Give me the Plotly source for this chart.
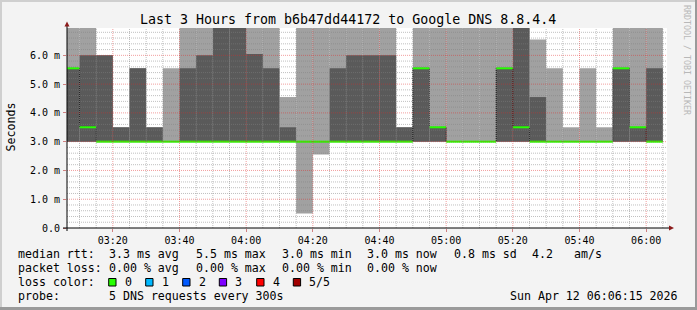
import plotly.graph_objects as go
from datetime import datetime, timedelta

# ---------------- data ----------------
graph_start = "2026-04-12 03:06:15"
graph_end = "2026-04-12 06:06:15"
day = "2026-04-12"

column_end = ["03:10", "03:15", "03:20", "03:25", "03:30", "03:35", "03:40", "03:45",
              "03:50", "03:55", "04:00", "04:05", "04:10", "04:15", "04:20", "04:25",
              "04:30", "04:35", "04:40", "04:45", "04:50", "04:55", "05:00", "05:05",
              "05:10", "05:15", "05:20", "05:25", "05:30", "05:35", "05:40", "05:45",
              "05:50", "05:55", "06:00", "06:05"]

# sorted pings per 5-minute step (ms); 7.3 = off the top of the chart
ping_min = [3.0, 3.0, 3.0, 3.0, 3.0, 3.0, 3.0, 3.0, 3.0, 3.0, 3.0, 3.0, 3.0, 3.0, 0.5, 2.55,
            3.0, 3.0, 3.0, 3.0, 3.0, 3.0, 3.0, 3.0, 3.0, 3.0, 3.0, 3.0, 3.0, 3.0, 3.0, 3.0,
            3.0, 3.0, 3.0, 3.0]
ping_lo = [3.0] * 36
median_rtt = [5.55, 3.5, 3.0, 3.0, 3.0, 3.0, 3.0, 3.0, 3.0, 3.0, 3.0, 3.0, 3.0, 3.0, 3.0, 3.0,
              3.0, 3.0, 3.0, 3.0, 3.0, 5.55, 3.5, 3.0, 3.0, 3.0, 5.55, 3.5, 3.0, 3.0, 3.0, 3.0,
              3.0, 5.55, 3.5, 3.0]
ping_hi = [5.55, 6.0, 6.0, 3.5, 5.55, 3.5, 3.0, 5.55, 6.0, 7.3, 7.3, 6.05, 5.55, 3.5, 3.0, 3.0,
           5.55, 6.0, 6.0, 6.0, 3.5, 5.55, 3.5, 3.0, 3.0, 3.0, 5.55, 7.3, 4.55, 3.0, 3.0, 3.0,
           3.0, 5.55, 3.5, 5.55]
ping_max = [7.3, 7.3, 6.0, 3.5, 5.55, 3.5, 5.55, 7.3, 7.3, 7.3, 7.3, 7.3, 7.3, 4.55, 7.3, 7.3,
            7.3, 7.3, 7.3, 7.3, 3.5, 7.3, 7.3, 7.3, 7.3, 7.3, 7.3, 7.3, 6.55, 5.55, 3.5, 5.55,
            3.5, 7.3, 7.3, 7.3]

y_ticks = [0, 1, 2, 3, 4, 5, 6]
y_tick_labels = ["0.0", "1.0 m", "2.0 m", "3.0 m", "4.0 m", "5.0 m", "6.0 m"]
x_tick_labels = ["03:20", "03:40", "04:00", "04:20", "04:40", "05:00", "05:20", "05:40", "06:00"]

title_text = "Last 3 Hours from b6b47dd44172 to Google DNS 8.8.4.4"
rtt_row = [("median rtt:", 16), ("3.3 ms avg", 107.3), ("5.5 ms max", 193.5), ("3.0 ms min", 279.5),
           ("3.0 ms now", 365.3), ("0.8 ms sd", 451.7), ("4.2", 530), ("am/s", 571.7)]
loss_row = [("packet loss:", 16), ("0.00 % avg", 107.3), ("0.00 % max", 193.5),
            ("0.00 % min", 279.5), ("0.00 % now", 365.3)]
loss_labels = ["0", "1", "2", "3", "4", "5/5"]
loss_colors = ["#26ff00", "#00b8ff", "#0059ff", "#7e00ff", "#ff0000", "#a10000"]
probe_text = "5 DNS requests every 300s"
stamp_text = "Sun Apr 12 06:06:15 2026"

# ---------------- geometry ----------------
W, H = 697, 310
L, R, T, B = 67, 30, 28, 82
PW, PH = W - L - R, H - T - B
Y_TOP = 6.95
MONO = "DejaVu Sans Mono"


def fx(px):
    return (px - L) / PW


def fy(py):
    return (T + PH - py) / PH


t0 = datetime.fromisoformat(graph_start)
t1 = datetime.fromisoformat(graph_end)
ends = [datetime.fromisoformat(f"{day} {c}:00") for c in column_end]
starts = [max(e - timedelta(minutes=5), t0) for e in ends]
centers = [s + (e - s) / 2 for s, e in zip(starts, ends)]
widths = [(e - s).total_seconds() * 1000 for s, e in zip(starts, ends)]

fig = go.Figure()

fig.add_trace(go.Bar(x=centers, y=[a - b for a, b in zip(ping_max, ping_min)], base=ping_min,
                     width=widths, marker=dict(color="#a1a1a1", line=dict(width=0)),
                     hoverinfo="skip", showlegend=False))
fig.add_trace(go.Bar(x=centers, y=[a - b for a, b in zip(ping_hi, ping_lo)], base=ping_lo,
                     width=widths, marker=dict(color="#5a5a5a", line=dict(width=0)),
                     hoverinfo="skip", showlegend=False))

# dark connector of the median (step line)
fig.add_trace(go.Scatter(x=starts + [ends[-1]], y=median_rtt + [median_rtt[-1]], mode="lines",
                         line=dict(color="#111111", width=1, shape="hv", dash="1px,1px"),
                         hoverinfo="skip", showlegend=False))
# green median segments
gx, gy = [], []
for s, e, m in zip(starts, ends, median_rtt):
    gx += [s, e, None]
    gy += [m, m, None]
fig.add_trace(go.Scatter(x=gx, y=gy, mode="lines", line=dict(color="#26ff00", width=2),
                         hoverinfo="skip", showlegend=False))

shapes = []
# grid (drawn on top, as rrdtool does)
minor_c = "rgba(130,130,130,0.5)"
major_c = "rgba(225,40,40,0.45)"
t = t0.replace(minute=10, second=0)
while t <= t1:
    major = (t.minute % 20 == 0)
    shapes.append(dict(type="line", xref="x", yref="paper", x0=t, x1=t, y0=0, y1=1,
                       line=dict(color=major_c if major else minor_c, width=1, dash="1px,1px"),
                       layer="above"))
    t += timedelta(minutes=5)
for k in range(1, 35):
    v = k * 0.2
    major = (k % 5 == 0)
    shapes.append(dict(type="line", xref="paper", yref="y", x0=0, x1=1, y0=v, y1=v,
                       line=dict(color=major_c if major else minor_c, width=1, dash="1px,1px"),
                       layer="above"))
# axes
shapes.append(dict(type="line", xref="paper", yref="paper", x0=fx(63), x1=fx(670), y0=fy(228), y1=fy(228),
                   line=dict(color="black", width=1), layer="above"))
shapes.append(dict(type="line", xref="paper", yref="paper", x0=fx(67), x1=fx(67), y0=fy(231), y1=fy(24),
                   line=dict(color="black", width=1), layer="above"))
shapes.append(dict(type="path", xref="paper", yref="paper",
                   path=f"M {fx(669)} {fy(225.5)} L {fx(674)} {fy(228)} L {fx(669)} {fy(230.5)} Z",
                   fillcolor="#8b1a1a", line=dict(width=0), layer="above"))
shapes.append(dict(type="path", xref="paper", yref="paper",
                   path=f"M {fx(64.5)} {fy(26.5)} L {fx(67)} {fy(21.5)} L {fx(69.5)} {fy(26.5)} Z",
                   fillcolor="#8b1a1a", line=dict(width=0), layer="above"))
# frame
shapes.append(dict(type="rect", xref="paper", yref="paper", x0=fx(0), x1=fx(2), y0=fy(310), y1=fy(0),
                   fillcolor="#cfcfcf", line=dict(width=0), layer="above"))
shapes.append(dict(type="rect", xref="paper", yref="paper", x0=fx(0), x1=fx(697), y0=fy(2), y1=fy(0),
                   fillcolor="#cfcfcf", line=dict(width=0), layer="above"))
shapes.append(dict(type="rect", xref="paper", yref="paper", x0=fx(695), x1=fx(697), y0=fy(310), y1=fy(0),
                   fillcolor="#9a9a9a", line=dict(width=0), layer="above"))
shapes.append(dict(type="rect", xref="paper", yref="paper", x0=fx(0), x1=fx(697), y0=fy(310), y1=fy(307),
                   fillcolor="#9a9a9a", line=dict(width=0), layer="above"))

ann = []


def text(s, x, y, size=11.6, anchor="left", color="black", angle=0):
    ann.append(dict(text=s, xref="paper", yref="paper", x=fx(x), y=fy(y), xanchor=anchor,
                    yanchor="middle", showarrow=False, textangle=angle,
                    font=dict(family=MONO, size=size, color=color)))


text(title_text, 348, 19, size=13.3, anchor="center")
text("Seconds", 10, 127.5, size=11.6, anchor="center", angle=-90)
text("RRDTOOL / TOBI OETIKER", 687, 60, size=8.3, anchor="center", color="#b8b8b8", angle=90)

for s, x in rtt_row:
    text(s, x, 254.3)
for s, x in loss_row:
    text(s, x, 268.3)
text("loss color:", 16, 282.3)
box_x = [108.7, 145.7, 182.7, 219.3, 256.7, 293.3]
for lab, col, bx in zip(loss_labels, loss_colors, box_x):
    shapes.append(dict(type="rect", xref="paper", yref="paper", x0=fx(bx), x1=fx(bx + 7.3),
                       y0=fy(286), y1=fy(278.5), fillcolor=col, line=dict(color="black", width=1),
                       layer="above"))
    text(lab, bx + 14, 282.3)
text("probe:", 16, 296)
text(probe_text, 107.3, 296)
text(stamp_text, 679.5, 296, anchor="right")

x_tick_vals = [datetime.fromisoformat(f"{day} {v}:00") for v in x_tick_labels]

fig.update_layout(
    width=W, height=H, margin=dict(l=L, r=R, t=T, b=B, pad=0),
    paper_bgcolor="#f3f3f3", plot_bgcolor="white",
    barmode="overlay", showlegend=False,
    shapes=shapes, annotations=ann,
    xaxis=dict(type="date", range=[t0, t1], tickvals=x_tick_vals, ticktext=x_tick_labels,
               showgrid=False, zeroline=False, showline=False, ticks="outside", ticklen=3,
               tickcolor="#d08080", tickfont=dict(family=MONO, size=10, color="black"),
               fixedrange=True),
    yaxis=dict(range=[0, Y_TOP], tickvals=y_ticks, ticktext=y_tick_labels, showgrid=False,
               zeroline=False, showline=False, ticks="outside", ticklen=3, tickcolor="#d08080",
               tickfont=dict(family=MONO, size=10, color="black"), ticklabelstandoff=1,
               fixedrange=True),
)

fig.write_html("out.html")
